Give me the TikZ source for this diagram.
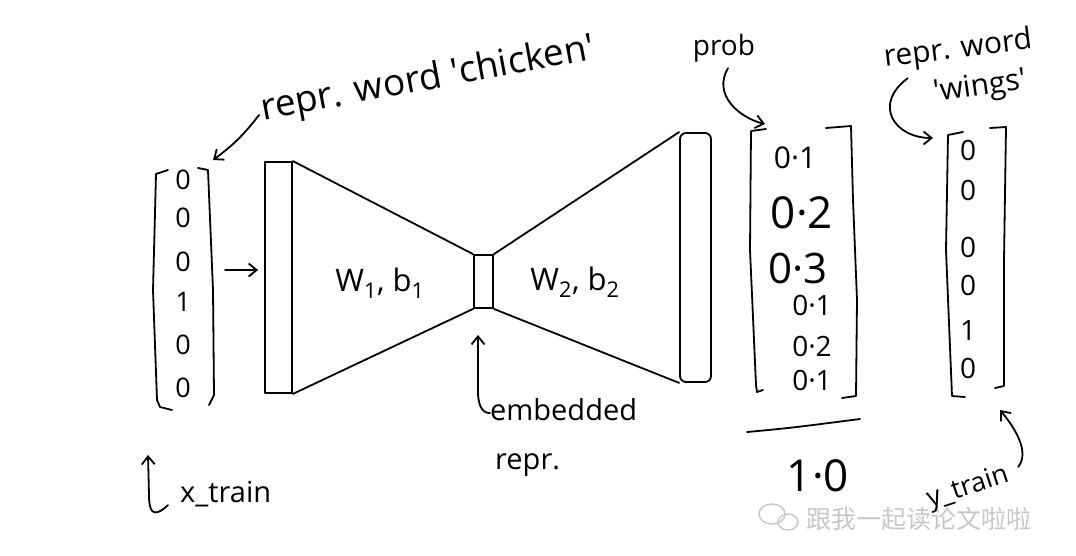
\documentclass[tikz,border=0pt]{standalone}
\usepackage{fontspec}
\setmainfont{Open Sans}
\newfontfamily\cjk{Noto Sans CJK SC}
\usetikzlibrary{arrows.meta}
\tikzset{
  sk/.style={line width=1.8pt, line cap=round, line join=round},
  arr/.style={sk, -{Straight Barb[length=8pt,width=13pt]}},
  hand/.style={inner sep=0pt, font=\fontsize{#1}{#1}\selectfont},
  layer/.style={sk, draw, inner sep=0pt},
  wmark/.style={black!22},
}
\begin{document}
\begin{tikzpicture}[x=1pt,y=-1pt]
\useasboundingbox (0,0) rectangle (1076,555);
\fill[white] (0,0) rectangle (1076,555);

% ---------- watermark ----------
\draw[wmark, line width=1.4pt] (772,514) ellipse (13pt and 10pt);
\draw[wmark, line width=1.4pt] (788,522) ellipse (10pt and 8pt);
\node[wmark, font=\cjk\fontsize{25}{25}\selectfont, anchor=west, inner sep=0pt] (wm) at (806,519) {跟我一起读论文啦啦};

% ---------- input vector ----------
\foreach \v/\y/\n in {0/180/1,0/218/2,0/262/3,1/302/4,0/345/5,0/388/6}
  \node[hand=27] (in\n) at (183,\y) {\v};
\draw[sk] (168,170) -- (156,174) -- (153,290) -- (157,400) -- (160,407) -- (172,410);
\draw[sk] (198,168) -- (208,170) -- (213,290) -- (214,395) -- (209,405);

% ---------- layers ----------
\node[layer, minimum width=27pt, minimum height=231pt] (L) at (278.5,277.5) {};
\node[layer, minimum width=19pt, minimum height=53pt] (M) at (483.5,281.5) {};
\node[layer, minimum width=31pt, minimum height=249pt, rounded corners=6pt] (R) at (695.5,257.5) {};

\coordinate (inR) at (225,270);
\draw[arr, shorten >=6pt] (inR) -- (L.west |- inR);

\draw[sk] (L.north east) -- (M.north west);
\draw[sk] (L.south east) -- (M.south west);
\draw[sk] (M.north east) -- (R.north west);
\draw[sk] (M.south east) -- (R.south west);

\node[hand=31] (w1) at (380,283) {W\textsubscript{1}, b\textsubscript{1}};
\node[hand=31] (w2) at (575,282) {W\textsubscript{2}, b\textsubscript{2}};

% ---------- embedded repr ----------
\node[hand=29, anchor=west] (emb) at (490,410) {embedded};
\node[hand=29, anchor=west] (embr) at (495,465) {repr.};
\coordinate (embtip) at (478,335);
\draw[arr] ([yshift=-3pt]emb.west) to[out=185,in=-90] (478,392) -- (embtip);

% ---------- x_train ----------
\node[hand=29, anchor=west] (xt) at (180,494) {x\_train};
\coordinate (xtip) at (148,455);
\draw[arr] ([xshift=-12pt,yshift=2pt]xt.south west) .. controls (152,520) and (149,510) .. (149,495) -- (xtip);

% ---------- chicken label ----------
\node[hand=37, rotate=10.5] (chk) at (428,80) {repr. word \textquotesingle chicken\textquotesingle};
\coordinate (chktip) at (213,160);
\draw[arr] ([xshift=-2pt,yshift=-4pt]chk.west) to[bend left=8] (chktip);

% ---------- prob vector ----------
\node[hand=28] (prob) at (724,48) {prob};
\coordinate (probtip) at (765,124);
\draw[arr] ([xshift=4pt,yshift=-6pt]prob.south) .. controls (712,95) and (740,118) .. (probtip);

\node[hand=30] (p1) at (795,158) {0·1};
\node[hand=44] (p2) at (802,213) {0·2};
\node[hand=42] (p3) at (798,268) {0·3};
\node[hand=28] (p4) at (812,305) {0·1};
\node[hand=28] (p5) at (812,346) {0·2};
\node[hand=28] (p6) at (812,380) {0·1};
\draw[sk] (766,129) -- (751,131) -- (750,250) -- (756,385) -- (757,392) -- (763,390);
\draw[sk] (826,128) -- (851,126) -- (853,200) -- (857,300) -- (856,396) -- (842,398);

\draw[sk] (747,432) .. controls (790,428) .. (860,419);
\node[hand=44] (sum) at (818,476) {1·0};

% ---------- wings vector ----------
\node[hand=30, rotate=7] (wr) at (958,50) {repr. word};
\node[hand=30, rotate=8] (ww) at (980,88) {\textquotesingle wings\textquotesingle};
\coordinate (wtip) at (933,138);
\draw[arr] ([xshift=22pt,yshift=-4pt]wr.south west) .. controls (872,105) and (895,138) .. (wtip);

\foreach \v/\y/\n in {0/150/1,0/190/2,0/247/3,0/285/4,1/330/5,0/368/6}
  \node[hand=28] (g\n) at (968,\y) {\v};
\draw[sk] (963,132) -- (948,135) -- (946,250) -- (952,396) -- (965,397);
\draw[sk] (990,128) -- (1006,127) -- (1004,260) -- (1004,386) -- (995,388);

% ---------- y_train ----------
\node[hand=27, rotate=18] (yt) at (968,488) {y\_train};
\coordinate (ytip) at (1000,410);
\draw[arr] ([xshift=10pt,yshift=8pt]yt.east) .. controls (1030,452) and (1015,428) .. (ytip);
\end{tikzpicture}
\end{document}
